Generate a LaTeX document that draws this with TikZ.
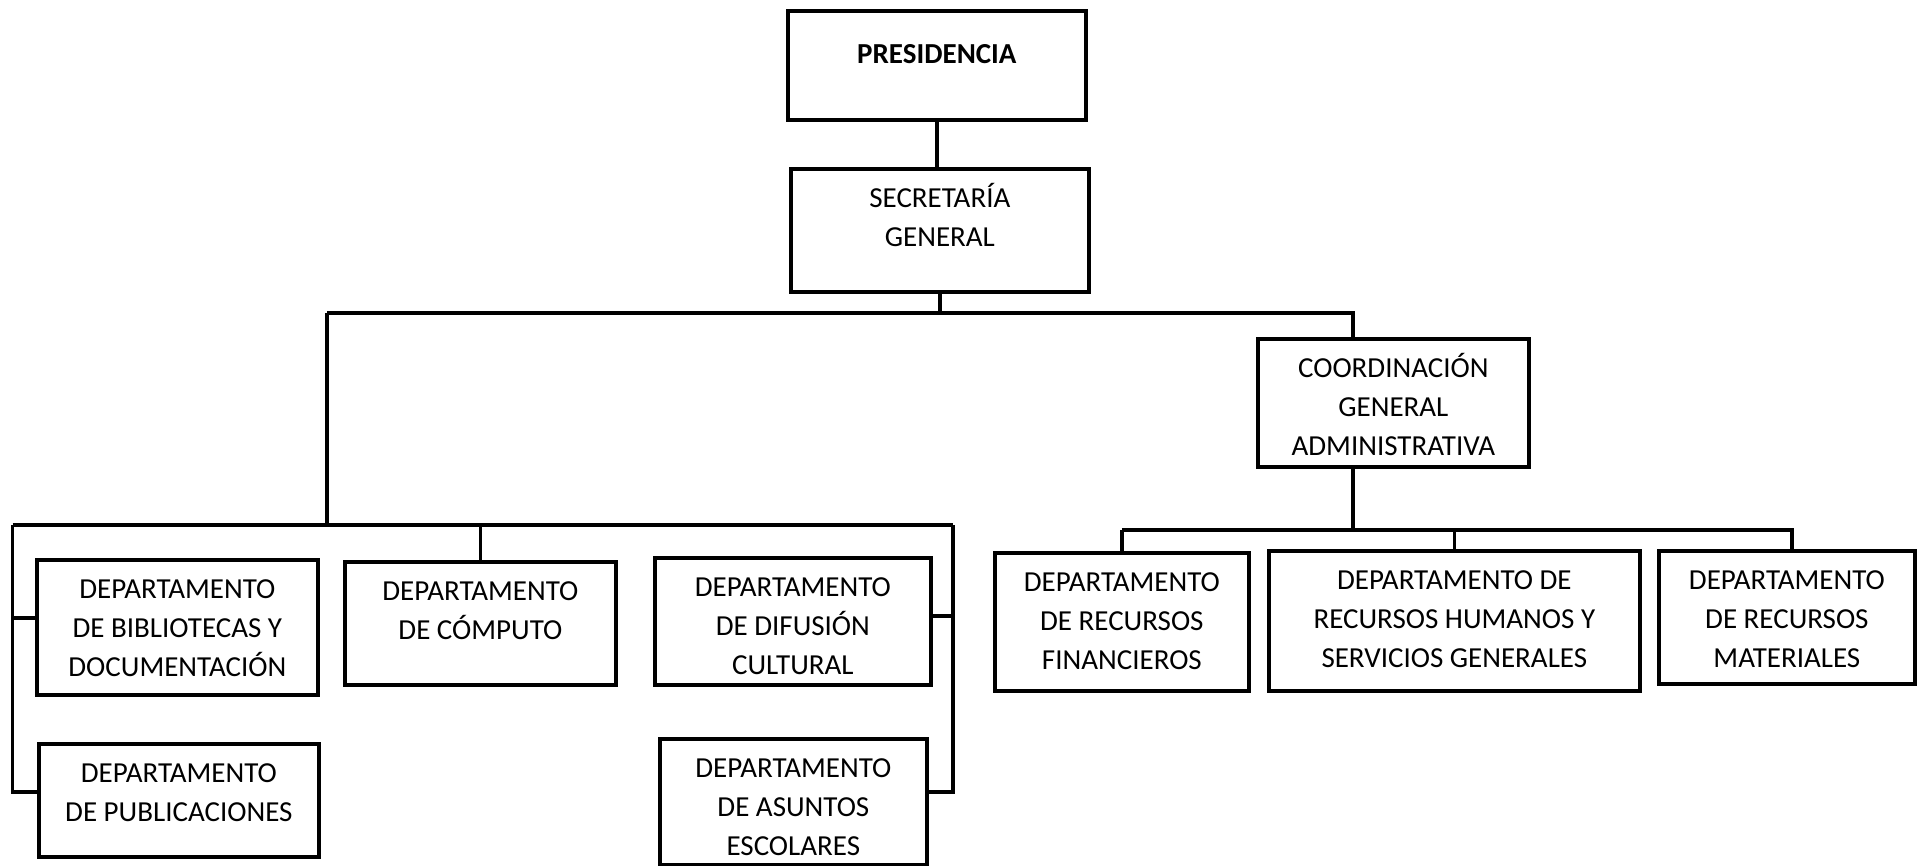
\documentclass[tikz,border=0pt]{standalone}
\usepackage{fontspec}
\setmainfont{Carlito}
\usetikzlibrary{calc}

% text of a box: width, height, first baseline from the top
\newcommand{\boxtxt}[4][19.5pt]{\parbox[c][#3][t]{#2}{\centering\rule{0pt}{#1}#4}}

\tikzset{
  orgbox/.style={draw, line width=1.85pt, inner sep=0pt, anchor=north west,
    font=\fontsize{14.5}{19.5}\selectfont},
  link/.style={line width=1.85pt}
}

\begin{document}
\begin{tikzpicture}[x=0.5pt, y=-0.5pt]
    \useasboundingbox (0,0) rectangle (1920,866);

    % top
    \node[orgbox] (pres) at (786,9) {\boxtxt[26.4pt]{149pt}{54.5pt}{\textbf{PRESIDENCIA}}};
    \node[orgbox] (sec) at (789,167) {\boxtxt{149pt}{61.5pt}{SECRETARÍA\\GENERAL}};
    \node[orgbox] (coord) at (1256,337) {\boxtxt{135.5pt}{64pt}{COORDINACIÓN\\GENERAL\\ADMINISTRATIVA}};

    % left group
    \node[orgbox] (bib) at (35,558) {\boxtxt{140.5pt}{67.5pt}{DEPARTAMENTO\\DE BIBLIOTECAS Y\\DOCUMENTACIÓN}};
    \node[orgbox] (comp) at (343,560) {\boxtxt{135.5pt}{61.5pt}{DEPARTAMENTO\\DE CÓMPUTO}};
    \node[orgbox] (dif) at (653,556) {\boxtxt{138pt}{63.5pt}{DEPARTAMENTO\\DE DIFUSIÓN\\CULTURAL}};
    \node[orgbox] (pub) at (37,742) {\boxtxt{140pt}{56.5pt}{DEPARTAMENTO\\DE PUBLICACIONES}};
    \node[orgbox] (asu) at (658,737) {\boxtxt{133.5pt}{63pt}{DEPARTAMENTO\\DE ASUNTOS\\ESCOLARES}};

    % right group
    \node[orgbox] (fin) at (993,551) {\boxtxt{127pt}{69pt}{DEPARTAMENTO\\DE RECURSOS\\FINANCIEROS}};
    \node[orgbox] (rrhh) at (1267,549) {\boxtxt{185.5pt}{70pt}{DEPARTAMENTO DE\\RECURSOS HUMANOS Y\\SERVICIOS GENERALES}};
    \node[orgbox] (mat) at (1657,549) {\boxtxt{128pt}{66.5pt}{DEPARTAMENTO\\DE RECURSOS\\MATERIALES}};

    % bus points
    \coordinate (busL) at (327,313);
    \coordinate (busR) at (1353,313);
    \coordinate (lbL) at (12.5,525);
    \coordinate (lbR) at (953,525);
    \coordinate (bibS) at (12.5,618);
    \coordinate (pubS) at (12.5,792);
    \coordinate (difS) at (953,616);
    \coordinate (asuS) at (953,792);
    \coordinate (rbM) at (1353,530);
    \coordinate (rbR) at (1792,530);

    % connectors
    \draw[link] (pres.south) -- (pres.south |- sec.north);
    \draw[link] (sec.south) -- (sec.south |- busL);
    \draw[link] (busL) -- (busR) -- (busR |- coord.north);
    \draw[link] (busL) -- (busL |- lbL);
    \draw[link] (lbL) -- (lbR);
    \draw[link] (comp.north |- lbL) -- (comp.north);
    \draw[link] (lbL) -- (pubS) -- (pubS -| pub.west);
    \draw[link] (bibS) -- (bibS -| bib.west);
    \draw[link] (lbR) -- (asuS) -- (asuS -| asu.east);
    \draw[link] (difS) -- (difS -| dif.east);
    \draw[link] (rbM |- coord.south) -- (rbM);
    \draw[link] (fin.north |- rbM) -- (rbR) -- (rbR |- mat.north);
    \draw[link] (fin.north |- rbM) -- (fin.north);
    \draw[link] (rrhh.north |- rbM) -- (rrhh.north);
\end{tikzpicture}
\end{document}
